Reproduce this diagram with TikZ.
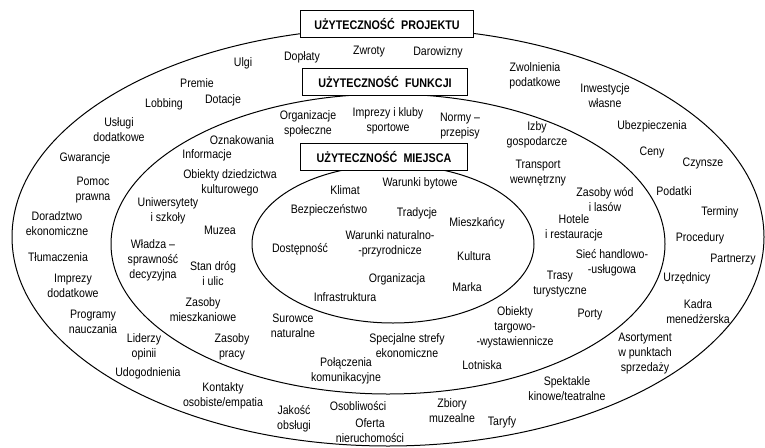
\documentclass[tikz,border=0pt]{standalone}
\usepackage{fontspec}
\setmainfont{Liberation Sans}[FakeStretch=0.86]
\begin{document}
\begin{tikzpicture}[
        x=1pt, y=-1pt,
        lbl/.style={align=center,inner sep=0pt,font=\fontsize{12.3}{15}\selectfont},
        head/.style={draw,fill=white,line width=0.8pt,minimum height=27pt,
            inner sep=0pt,font=\fontsize{12.5}{15}\selectfont\bfseries},
        ring/.style={line width=1pt},
        ]
    \useasboundingbox (0,0) rectangle (765,447);
    \draw[ring] (388,237) ellipse [x radius=376, y radius=209];
    \draw[ring] (388,244) ellipse [x radius=277, y radius=150];
    \draw[ring] (393,244) ellipse [x radius=141, y radius=79];
    % naglowki
    \node (projekt) [head, minimum width=173pt] at (387,24) {UŻYTECZNOŚĆ\enspace PROJEKTU};
    \node (funkcja) [head, minimum width=165pt] at (385,82) {UŻYTECZNOŚĆ\enspace FUNKCJI};
    \node (miejsce) [head, minimum width=167pt] at (384,157) {UŻYTECZNOŚĆ\enspace MIEJSCA};
    % pierscien zewnetrzny
    \node (ulgi) [lbl] at (243,63) {Ulgi};
    \node (premie) [lbl] at (197,83) {Premie};
    \node (lobbing) [lbl] at (164,104) {Lobbing};
    \node (dotacje) [lbl] at (223,100) {Dotacje};
    \node (doplaty) [lbl] at (302,57) {Dopłaty};
    \node (zwroty) [lbl] at (369,52) {Zwroty};
    \node (darowizny) [lbl] at (438,52) {Darowizny};
    \node (zwolnienia) [lbl] at (535,76) {Zwolnienia\\podatkowe};
    \node (inwestycje) [lbl] at (605,96) {Inwestycje\\własne};
    \node (ubezp) [lbl] at (652,126) {Ubezpieczenia};
    \node (ceny) [lbl] at (652,152) {Ceny};
    \node (czynsze) [lbl] at (703,163) {Czynsze};
    \node (podatki) [lbl] at (674,191) {Podatki};
    \node (terminy) [lbl] at (720,212) {Terminy};
    \node (procedury) [lbl] at (700,238) {Procedury};
    \node (partnerzy) [lbl] at (733,260) {Partnerzy};
    \node (urzednicy) [lbl] at (687,278) {Urzędnicy};
    \node (kadra) [lbl] at (698,312) {Kadra\\menedżerska};
    \node (asortyment) [lbl] at (645,354) {Asortyment\\w punktach\\sprzedaży};
    \node (spektakle) [lbl] at (567,389) {Spektakle\\kinowe/teatralne};
    \node (taryfy) [lbl] at (502,422) {Taryfy};
    \node (zbiory) [lbl] at (452,411) {Zbiory\\muzealne};
    \node (oferta) [lbl] at (370,431) {Oferta\\nieruchomości};
    \node (osobliwosci) [lbl] at (358,406) {Osobliwości};
    \node (jakosc) [lbl] at (294,419) {Jakość\\obsługi};
    \node (kontakty) [lbl] at (223,396) {Kontakty\\osobiste/empatia};
    \node (udogodnienia) [lbl] at (148,373) {Udogodnienia};
    \node (liderzy) [lbl] at (144,347) {Liderzy\\opinii};
    \node (programy) [lbl] at (93,322) {Programy\\nauczania};
    \node (imprezyd) [lbl] at (73,286) {Imprezy\\dodatkowe};
    \node (tlumaczenia) [lbl] at (58,257) {Tłumaczenia};
    \node (doradztwo) [lbl] at (57,224) {Doradztwo\\ekonomiczne};
    \node (pomoc) [lbl] at (93,190) {Pomoc\\prawna};
    \node (gwarancje) [lbl] at (85,158) {Gwarancje};
    \node (uslugi) [lbl] at (119,130) {Usługi\\dodatkowe};
    % pierscien srodkowy
    \node (oznakowania) [lbl] at (242,140) {Oznakowania};
    \node (informacje) [lbl] at (207,155) {Informacje};
    \node (organizacje) [lbl] at (308,124) {Organizacje\\społeczne};
    \node (imprezyk) [lbl] at (388,121) {Imprezy i kluby\\sportowe};
    \node (normy) [lbl] at (460,126) {Normy --\\przepisy};
    \node (izby) [lbl] at (537,135) {Izby\\gospodarcze};
    \node (transport) [lbl] at (538,173) {Transport\\wewnętrzny};
    \node (zasobyw) [lbl] at (605,200) {Zasoby wód\\i lasów};
    \node (hotele) [lbl] at (574,228) {Hotele\\i restauracje};
    \node (siec) [lbl] at (612,263) {Sieć handlowo-\\-usługowa};
    \node (trasy) [lbl] at (560,284) {Trasy\\turystyczne};
    \node (porty) [lbl] at (590,315) {Porty};
    \node (targi) [lbl] at (515,327) {Obiekty\\targowo-\\-wystawiennicze};
    \node (lotniska) [lbl] at (482,365) {Lotniska};
    \node (strefy) [lbl] at (407,346) {Specjalne strefy\\ekonomiczne};
    \node (polaczenia) [lbl] at (346,371) {Połączenia\\komunikacyjne};
    \node (surowce) [lbl] at (293,326) {Surowce\\naturalne};
    \node (zasobyp) [lbl] at (232,347) {Zasoby\\pracy};
    \node (zasobym) [lbl] at (203,310) {Zasoby\\mieszkaniowe};
    \node (stan) [lbl] at (213,274) {Stan dróg\\i ulic};
    \node (wladza) [lbl] at (153,260) {Władza --\\sprawność\\decyzyjna};
    \node (muzea) [lbl] at (220,230) {Muzea};
    \node (uczelnie) [lbl] at (168,211) {Uniwersytety\\i szkoły};
    \node (dziedzictwo) [lbl] at (230,183) {Obiekty dziedzictwa\\kulturowego};
    % elipsa wewnetrzna
    \node (klimat) [lbl] at (345,190) {Klimat};
    \node (bytowe) [lbl] at (420,183) {Warunki bytowe};
    \node (bezp) [lbl] at (329,210) {Bezpieczeństwo};
    \node (tradycje) [lbl] at (417,213) {Tradycje};
    \node (mieszkancy) [lbl] at (477,223) {Mieszkańcy};
    \node (przyroda) [lbl] at (390,244) {Warunki naturalno-\\-przyrodnicze};
    \node (dostepnosc) [lbl] at (300,249) {Dostępność};
    \node (kultura) [lbl] at (474,256) {Kultura};
    \node (organizacja) [lbl] at (397,279) {Organizacja};
    \node (marka) [lbl] at (467,287) {Marka};
    \node (infra) [lbl] at (345,297) {Infrastruktura};
\end{tikzpicture}
\end{document}
